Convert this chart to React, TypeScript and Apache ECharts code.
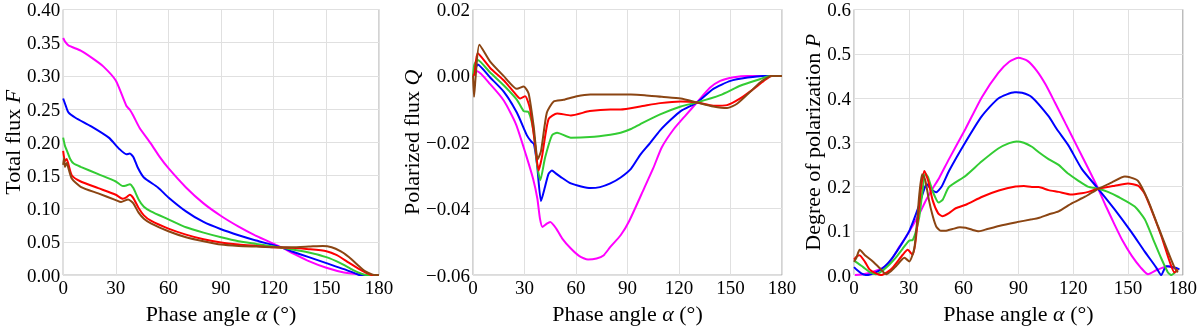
import React, { useEffect, useRef } from "react";
import * as echarts from "echarts";

type Pt = [number, number];

const angleTicks = { min: 0, max: 180, interval: 30 };

// Panel 1: Total flux F
const fluxMagenta: Pt[] = [[0,0.357],[1,0.352],[3,0.346],[10,0.338],[17,0.326],[23,0.314],[30,0.293],[36,0.255],[38,0.249],[40,0.24],[43.5,0.222],[50,0.198],[55,0.178],[60,0.161],[70,0.132],[80,0.108],[90,0.089],[100,0.073],[110,0.059],[120,0.047],[125,0.041],[130,0.034],[140,0.021],[150,0.011],[160,0.004],[170,0.001],[180,0]];
const fluxBlue: Pt[] = [[0,0.266],[1.5,0.255],[3,0.245],[7,0.237],[16,0.224],[26,0.207],[32,0.19],[36,0.182],[38,0.183],[40,0.178],[42.5,0.162],[46,0.147],[54,0.132],[60,0.117],[70,0.096],[80,0.08],[90,0.069],[100,0.06],[110,0.052],[120,0.045],[125,0.041],[130,0.036],[140,0.027],[150,0.018],[160,0.009],[168,0.001],[170,0],[180,0]];
const fluxGreen: Pt[] = [[0,0.207],[1,0.195],[2.5,0.185],[4,0.175],[6,0.168],[10,0.163],[20,0.152],[30,0.141],[34,0.134],[36,0.135],[38,0.137],[40,0.131],[43,0.114],[46,0.103],[50,0.096],[60,0.084],[70,0.072],[80,0.064],[90,0.057],[100,0.051],[110,0.047],[120,0.043],[130,0.039],[140,0.034],[150,0.027],[158,0.018],[165,0.008],[170,0.002],[173,0],[180,0]];
const fluxRed: Pt[] = [[0,0.187],[1,0.172],[2,0.175],[3,0.167],[5,0.15],[10,0.141],[20,0.131],[30,0.121],[34,0.115],[36,0.117],[38,0.121],[40,0.116],[43,0.101],[46,0.09],[50,0.082],[60,0.07],[70,0.061],[80,0.054],[90,0.049],[100,0.046],[110,0.044],[120,0.042],[130,0.041],[140,0.039],[150,0.036],[156,0.03],[162,0.02],[168,0.01],[173,0.003],[176,0],[180,0]];
const fluxBrown: Pt[] = [[0,0.166],[0.5,0.176],[1,0.163],[2,0.169],[3,0.161],[5,0.145],[10,0.133],[20,0.123],[30,0.113],[33,0.11],[37,0.114],[40,0.108],[43,0.094],[46,0.085],[50,0.078],[60,0.066],[70,0.057],[80,0.051],[90,0.046],[100,0.044],[110,0.043],[120,0.042],[130,0.042],[140,0.043],[148,0.044],[153,0.042],[158,0.036],[163,0.027],[168,0.015],[172,0.006],[176,0.001],[178,0],[180,0]];

// Panel 2: Polarized flux Q
const qMagenta: Pt[] = [[0,0],[1,0.001],[2.5,0.0014],[10,-0.0025],[18,-0.0075],[25,-0.0145],[31,-0.024],[35,-0.031],[37.5,-0.037],[39,-0.043],[40.5,-0.0455],[43,-0.0445],[45,-0.044],[48.5,-0.046],[52,-0.049],[57,-0.052],[62,-0.0543],[67,-0.0553],[72,-0.055],[76,-0.0541],[80,-0.0515],[86,-0.048],[91,-0.0437],[100,-0.0335],[105,-0.0278],[110,-0.0215],[117,-0.016],[124,-0.0118],[130.5,-0.008],[138,-0.0036],[144,-0.0015],[152,-0.0004],[160,0],[180,0]];
const qBlue: Pt[] = [[0,0],[1,0.0015],[2.7,0.0034],[10,-0.0005],[18,-0.0048],[25.6,-0.0111],[31.4,-0.0179],[34,-0.0198],[35.5,-0.0205],[37.3,-0.0266],[39.6,-0.0377],[42,-0.0333],[44,-0.0295],[46,-0.0285],[48,-0.0293],[51,-0.0304],[57,-0.0324],[63,-0.0333],[68.4,-0.0338],[74,-0.0335],[80,-0.0324],[86,-0.0306],[92,-0.028],[97.5,-0.0237],[103,-0.0203],[109,-0.0164],[115,-0.0133],[121,-0.0106],[130.5,-0.008],[140,-0.0039],[150,-0.0015],[160,-0.0005],[169,0],[180,0]];
const qGreen: Pt[] = [[0,0],[0.8,0.0034],[2.7,0.0048],[10,0.001],[18,-0.0029],[25.6,-0.0072],[29.5,-0.0106],[32.4,-0.0109],[35.3,-0.0169],[37.3,-0.0266],[39.2,-0.0314],[42,-0.0246],[46,-0.0179],[49,-0.0171],[57,-0.0186],[68,-0.0184],[80,-0.0177],[86,-0.0171],[92,-0.016],[97.5,-0.0145],[109,-0.0116],[121,-0.0092],[130.5,-0.008],[144,-0.0058],[156,-0.0029],[167,-0.001],[173,0],[180,0]];
const qRed: Pt[] = [[0,0],[0.8,0.0005],[2.7,0.0068],[10,0.0024],[18,-0.0014],[23.7,-0.0048],[27.5,-0.0068],[30.4,-0.0061],[33.3,-0.0101],[36.2,-0.0208],[38.2,-0.0285],[40.1,-0.0246],[44,-0.013],[49,-0.0113],[57,-0.0119],[68,-0.0106],[80,-0.0101],[86,-0.0101],[97.5,-0.0092],[109,-0.0082],[121,-0.0077],[130.5,-0.008],[140,-0.009],[148,-0.0088],[155.7,-0.0068],[163.5,-0.0039],[169.4,-0.0015],[174,0],[180,0]];
const qBrown: Pt[] = [[0,0],[0.6,-0.0063],[1.5,-0.0005],[3.7,0.0094],[10,0.0043],[17.8,0],[25.6,-0.0039],[29.5,-0.0032],[32.4,-0.0053],[35.3,-0.015],[37.7,-0.0251],[39.6,-0.0227],[43,-0.0111],[47,-0.0077],[52.7,-0.0072],[60.5,-0.0061],[68.4,-0.0056],[80,-0.0056],[92,-0.0056],[100,-0.0058],[110,-0.0063],[121,-0.0068],[130.5,-0.008],[140,-0.0092],[148,-0.0097],[153.8,-0.0084],[161.5,-0.0048],[167.4,-0.0019],[174,0],[180,0]];

// Panel 3: Degree of polarization P
const pMagenta: Pt[] = [[0.5,0],[5,0.002],[10,0.007],[16,0.017],[20,0.032],[25,0.065],[29,0.09],[32,0.111],[36,0.14],[39.4,0.169],[43,0.195],[46.7,0.22],[52,0.262],[61,0.33],[70,0.402],[79,0.457],[85,0.482],[90,0.491],[95,0.484],[100,0.462],[105,0.43],[110,0.39],[116,0.341],[122,0.292],[128,0.243],[133.7,0.195],[138,0.155],[142.8,0.113],[147,0.078],[152,0.044],[157,0.017],[161,0.002],[166,0.012],[171.9,0.02],[177.3,0.013]];
const pBlue: Pt[] = [[0,0.018],[1.5,0.012],[4,0.004],[7,0],[12,0.006],[17,0.02],[21,0.039],[26,0.07],[30.3,0.1],[35,0.15],[38.5,0.195],[40,0.205],[42,0.195],[45,0.187],[48,0.2],[52,0.235],[61,0.3],[70,0.359],[79,0.399],[88,0.413],[92,0.412],[97.4,0.402],[106.5,0.359],[111,0.33],[117.4,0.293],[124.7,0.24],[133.7,0.195],[142.8,0.148],[151.9,0.097],[159.2,0.053],[165.5,0.017],[168.2,0],[171,0.02],[175.5,0.017],[178.2,0.013]];
const pGreen: Pt[] = [[0,0.032],[1,0.03],[5,0.018],[9,0.006],[12,0.002],[15,0.008],[19.4,0.024],[23,0.04],[26.7,0.06],[30.3,0.078],[32.1,0.079],[34,0.1],[35.8,0.133],[37.5,0.19],[39,0.23],[40.5,0.222],[43,0.19],[46.3,0.164],[48.5,0.17],[52,0.199],[61,0.224],[70,0.257],[79,0.286],[85,0.298],[89,0.302],[93,0.299],[97.4,0.29],[101,0.278],[106.5,0.262],[112,0.249],[117,0.23],[122.9,0.213],[128,0.2],[133.7,0.195],[139,0.188],[144.6,0.177],[153.7,0.155],[159.2,0.126],[163.7,0.082],[168.2,0.038],[171.9,0.006],[173.7,0],[177.3,0.013]];
const pRed: Pt[] = [[0,0.035],[1.5,0.042],[3,0.045],[6,0.03],[8.5,0.013],[12,0.004],[15,0],[18,0.006],[21.2,0.017],[26.7,0.046],[29.4,0.057],[32.1,0.046],[33.5,0.07],[34.8,0.118],[36.5,0.19],[38.5,0.235],[40.5,0.215],[43,0.17],[46,0.14],[48.4,0.133],[52,0.14],[55.7,0.151],[61.2,0.159],[70.2,0.177],[79.3,0.191],[88.4,0.2],[93,0.201],[97.4,0.199],[101,0.199],[106.5,0.192],[112,0.188],[119,0.182],[124.7,0.185],[128.3,0.188],[133.7,0.195],[142.8,0.202],[150,0.207],[155.5,0.202],[159,0.185],[162.8,0.148],[168.2,0.089],[172.8,0.031],[175.5,0.006],[177.3,0.013]];
const pBrown: Pt[] = [[0,0.03],[1.3,0.039],[3.1,0.057],[6,0.045],[10.3,0.031],[14,0.016],[17.6,0.002],[20,0.008],[23,0.02],[27.6,0.039],[30.3,0.031],[33,0.06],[34.5,0.12],[35.8,0.184],[37.3,0.228],[39,0.215],[41,0.17],[43,0.135],[45,0.11],[47.5,0.1],[50,0.1],[53.9,0.104],[58,0.108],[61.2,0.107],[65,0.102],[68.4,0.099],[73,0.104],[79.3,0.111],[88.4,0.119],[97.4,0.126],[101,0.129],[106.5,0.137],[112,0.144],[119.2,0.162],[126.5,0.177],[133.7,0.195],[141,0.209],[148.3,0.2225],[151,0.221],[155.5,0.213],[161,0.169],[166.4,0.111],[171.9,0.053],[175.5,0.017],[177.3,0.006]];

const colors = ["#ff00ff", "#0000ff", "#33cc33", "#ff0000", "#8b4513"];
const panels = [
  { name: "{n|Total flux }{i|F}", min: 0, max: 0.4, interval: 0.05, dec: 2, gap: 38, series: [fluxMagenta, fluxBlue, fluxGreen, fluxRed, fluxBrown] },
  { name: "{n|Polarized flux }{i|Q}", min: -0.06, max: 0.02, interval: 0.02, dec: 2, gap: 50, series: [qMagenta, qBlue, qGreen, qRed, qBrown] },
  { name: "{n|Degree of polarization }{i|P}", min: 0, max: 0.6, interval: 0.1, dec: 1, gap: 28, series: [pMagenta, pBlue, pGreen, pRed, pBrown] },
];
const grids = [
  { left: 59, top: 9, width: 320, height: 275 },
  { left: 473, top: 9, width: 309, height: 276 },
  { left: 854, top: 9, width: 331, height: 275 },
];

const FONT = "Liberation Serif";

export default function App() {
  const ref = useRef<HTMLDivElement>(null);
  useEffect(() => {
    if (!ref.current) return;
    const chart = echarts.init(ref.current, undefined, { renderer: "svg" });
    const nameRich = {
      n: { fontFamily: FONT, fontSize: 22, color: "#000" },
      i: { fontFamily: FONT, fontSize: 22, fontStyle: "italic", color: "#000" },
    };
    chart.setOption({
      animation: false,
      grid: grids.map((g) => ({ ...g, show: true, borderColor: "#a6a6a6", borderWidth: 1, backgroundColor: "transparent" })),
      xAxis: grids.map((_, k) => ({
        type: "value",
        gridIndex: k,
        ...angleTicks,
        name: "{n|Phase angle }{i|α}{n| (°)}",
        nameLocation: "middle",
        nameGap: 18,
        nameTextStyle: { rich: nameRich },
        axisLine: { show: false },
        axisTick: { show: false },
        axisLabel: { fontFamily: FONT, fontSize: 19, color: "#000", margin: 3 },
        splitLine: { show: true, lineStyle: { color: "#e0e0e0", width: 1 } },
      })),
      yAxis: panels.map((p, k) => ({
        type: "value",
        gridIndex: k,
        min: p.min,
        max: p.max,
        interval: p.interval,
        name: p.name,
        nameLocation: "middle",
        nameGap: p.gap,
        nameRotate: 90,
        nameTextStyle: { rich: nameRich },
        axisLine: { show: false },
        axisTick: { show: false },
        axisLabel: {
          fontFamily: FONT,
          fontSize: 19,
          color: "#000",
          margin: 3,
          formatter: (v: number) => v.toFixed(p.dec).replace("-", "\u2212"),
        },
        splitLine: { show: true, lineStyle: { color: "#e0e0e0", width: 1 } },
      })),
      series: panels.flatMap((p, k) =>
        p.series.map((d, j) => ({
          type: "line",
          xAxisIndex: k,
          yAxisIndex: k,
          data: d,
          showSymbol: false,
          symbol: "none",
          smooth: 0.2,
          lineStyle: { color: colors[j], width: 2 },
          z: 2 + j,
        }))
      ),
    });
    return () => chart.dispose();
  }, []);
  return <div ref={ref} style={{ position: "fixed", left: 0, top: 0, width: 1200, height: 329 }} />;
}
